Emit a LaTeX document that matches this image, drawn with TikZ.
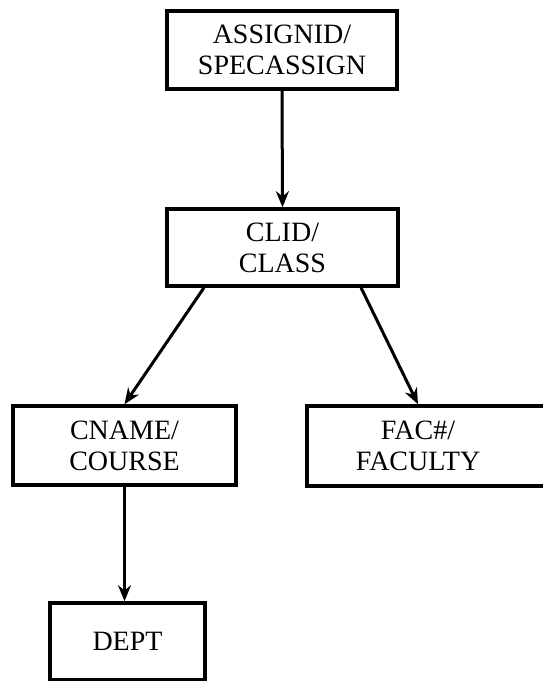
\documentclass[tikz,border=0pt]{standalone}
\usepackage{fontspec}
\setmainfont{Liberation Serif}
\usetikzlibrary{arrows.meta,calc}

\tikzset{
  entity/.style={draw, line width=3.5pt, rectangle, align=center, inner sep=0pt,
                 font=\fontsize{28}{31}\selectfont},
  label/.style={align=center, inner sep=0pt, font=\fontsize{28}{31}\selectfont},
  link/.style={line width=3pt, -{Stealth[length=16pt, width=13pt]}}
}

\begin{document}
\begin{tikzpicture}[x=1pt, y=1pt]
  \useasboundingbox (0,0) rectangle (543,681);
  \clip (0,0) rectangle (543,681);

  % record types of the hierarchy
  \node[entity, minimum width=230pt, minimum height=78pt] (assign) at (282,631)
    {ASSIGNID/\\SPECASSIGN};
  \node[entity, minimum width=231pt, minimum height=77pt] (class) at (282.5,433.5)
    {CLID/\\CLASS};
  \node[entity, minimum width=223pt, minimum height=79pt] (course) at (124.5,235.5)
    {CNAME/\\COURSE};
  \node[entity, minimum width=253pt, minimum height=80pt] (faculty) at (433.5,235) {};
  \node[label] (factext) at (418,235) {FAC\#/\\FACULTY};
  \node[entity, minimum width=155pt, minimum height=77pt] (dept) at (127.5,39.5)
    {DEPT};

  % parent-to-child links
  \draw[link] (assign.south) -- (class.north);
  \draw[link] ($(class.south west)!0.165!(class.south east)$) -- (course.north);
  \draw[link] ($(class.south west)!0.835!(class.south east)$) -- (factext |- faculty.north);
  \draw[link] (course.south) -- (course.south |- dept.north);
\end{tikzpicture}
\end{document}
